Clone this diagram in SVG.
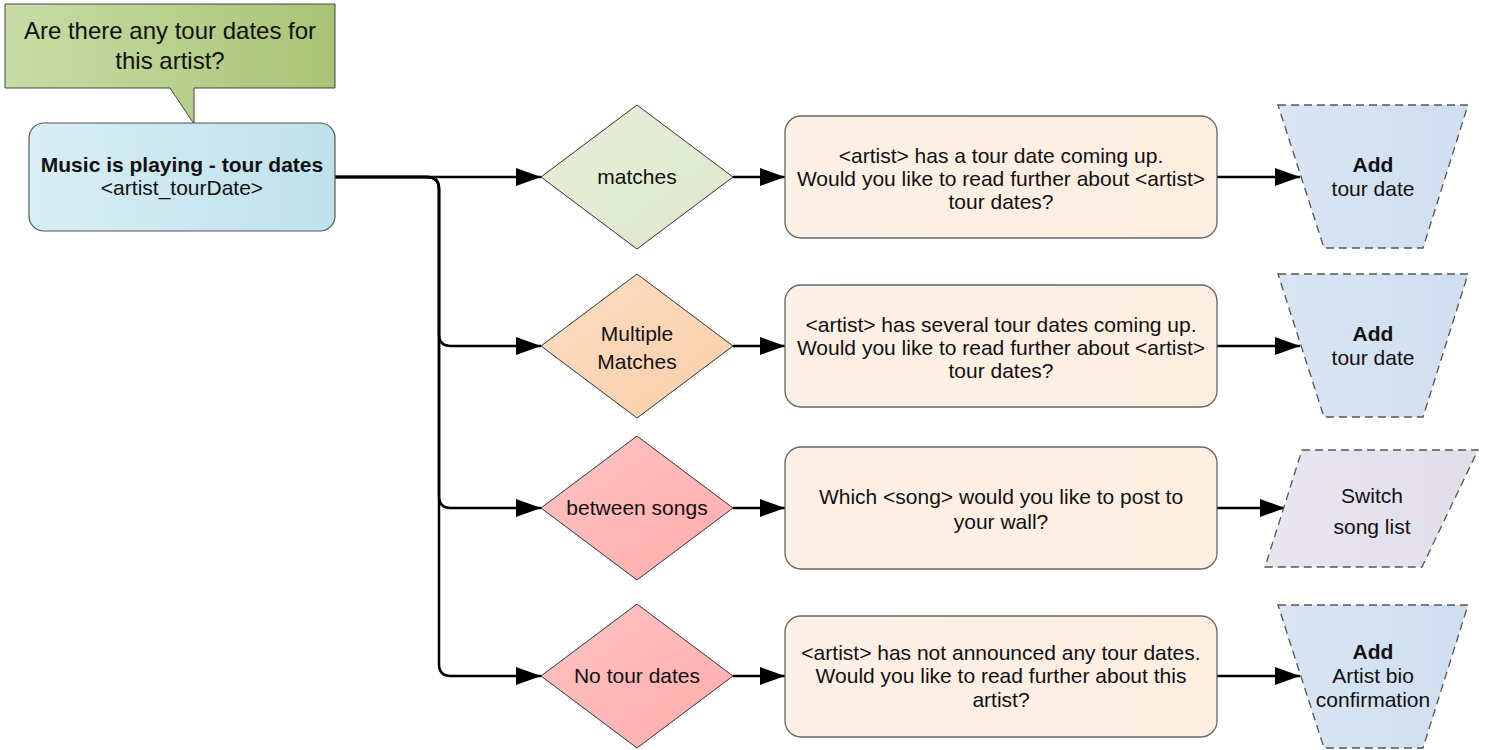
<svg xmlns="http://www.w3.org/2000/svg" width="1489" height="750" viewBox="0 0 1489 750">
<style>
text{font-family:"Liberation Sans",Arial,sans-serif;fill:#111;text-anchor:middle}
.t17{font-size:21px}
.b{font-weight:bold}
.conn{fill:none;stroke:#000;stroke-width:2.5;marker-end:url(#arr)}
.dia{stroke:#333;stroke-width:1}
.msg{fill:url(#gMsg);stroke:#666;stroke-width:1.3}
.dash{stroke:#555;stroke-width:1.3;stroke-dasharray:8 5}
</style>
<defs>
<marker id="arr" markerUnits="userSpaceOnUse" markerWidth="26" markerHeight="20" refX="25" refY="10" orient="auto">
<path d="M0,1 L25,10 L0,19 z" fill="#000"/>
</marker>
<linearGradient id="gCall" x1="0" y1="0" x2="1" y2="0"><stop offset="0" stop-color="#c9dca6"/><stop offset="1" stop-color="#a9c476"/></linearGradient>
<linearGradient id="gStart" x1="0" y1="0" x2="1" y2="0"><stop offset="0" stop-color="#d9eef5"/><stop offset="1" stop-color="#bfe1eb"/></linearGradient>
<linearGradient id="gGreen" x1="0" y1="0" x2="1" y2="1"><stop offset="0" stop-color="#e6eedb"/><stop offset="1" stop-color="#dde7cc"/></linearGradient>
<linearGradient id="gOrange" x1="0" y1="0" x2="1" y2="1"><stop offset="0" stop-color="#fcdcc2"/><stop offset="1" stop-color="#f9cfa9"/></linearGradient>
<linearGradient id="gPink" x1="0" y1="0" x2="1" y2="1"><stop offset="0" stop-color="#ffc4c4"/><stop offset="1" stop-color="#ffabab"/></linearGradient>
<linearGradient id="gMsg" x1="0" y1="0" x2="1" y2="0"><stop offset="0" stop-color="#fdf0e6"/><stop offset="1" stop-color="#fdeee1"/></linearGradient>
<linearGradient id="gBlue" x1="0" y1="0" x2="1" y2="0"><stop offset="0" stop-color="#d9e5f3"/><stop offset="1" stop-color="#cfdef0"/></linearGradient>
<linearGradient id="gLav" x1="0" y1="0" x2="1" y2="0"><stop offset="0" stop-color="#e9e6f0"/><stop offset="1" stop-color="#e2deea"/></linearGradient>
</defs>

<g id="callout">
<path d="M5,4 H335 V88 H194 V124 L170,88 H5 Z" fill="url(#gCall)" stroke="#444" stroke-width="1"/>
<text x="170" y="38.5" style="font-size:24px">Are there any tour dates for</text>
<text x="170" y="68.5" style="font-size:24px">this artist?</text>
</g>

<g id="connectors">
<path class="conn" d="M335,177 H541"/>
<path class="conn" d="M335,177 H427 Q439,177 439,189 V334 Q439,346 451,346 H541"/>
<path class="conn" d="M335,177 H427 Q439,177 439,189 V496 Q439,508 451,508 H541"/>
<path class="conn" d="M335,177 H427 Q439,177 439,189 V664 Q439,676 451,676 H541"/>
<path class="conn" d="M733,177 H785"/>
<path class="conn" d="M733,346 H785"/>
<path class="conn" d="M733,508 H785"/>
<path class="conn" d="M733,676 H785"/>
<path class="conn" d="M1217,177 H1300"/>
<path class="conn" d="M1217,346 H1300"/>
<path class="conn" d="M1217,508 H1285"/>
<path class="conn" d="M1217,676 H1300"/>
</g>

<g id="start">
<rect x="29" y="123" width="306" height="108" rx="15" fill="url(#gStart)" stroke="#555" stroke-width="1.2"/>
<text class="t17 b" x="182" y="172">Music is playing - tour dates</text>
<text class="t17" x="182" y="195">&lt;artist_tourDate&gt;</text>
</g>

<g id="d1">
<path class="dia" d="M541,177 L637,105 L733,177 L637,249 Z" fill="url(#gGreen)"/>
<text class="t17" x="637" y="184">matches</text>
</g>
<g id="d2">
<path class="dia" d="M541,346 L637,274 L733,346 L637,418 Z" fill="url(#gOrange)"/>
<text class="t17" x="637" y="341">Multiple</text>
<text class="t17" x="637" y="369">Matches</text>
</g>
<g id="d3">
<path class="dia" d="M541,508 L637,436 L733,508 L637,580 Z" fill="url(#gPink)"/>
<text class="t17" x="637" y="515">between songs</text>
</g>
<g id="d4">
<path class="dia" d="M541,676 L637,604 L733,676 L637,748 Z" fill="url(#gPink)"/>
<text class="t17" x="637" y="683">No tour dates</text>
</g>

<g id="m1">
<rect class="msg" x="785" y="116" width="432" height="122" rx="16"/>
<text class="t17" x="1001" y="162.5">&lt;artist&gt; has a tour date coming up.</text>
<text class="t17" x="1001" y="185.5">Would you like to read further about &lt;artist&gt;</text>
<text class="t17" x="1001" y="208.5">tour dates?</text>
</g>
<g id="m2">
<rect class="msg" x="785" y="285" width="432" height="122" rx="16"/>
<text class="t17" x="1001" y="331.5">&lt;artist&gt; has several tour dates coming up.</text>
<text class="t17" x="1001" y="354.5">Would you like to read further about &lt;artist&gt;</text>
<text class="t17" x="1001" y="377.5">tour dates?</text>
</g>
<g id="m3">
<rect class="msg" x="785" y="447" width="432" height="122" rx="16"/>
<text class="t17" x="1001" y="503.5">Which &lt;song&gt; would you like to post to</text>
<text class="t17" x="1001" y="528.5">your wall?</text>
</g>
<g id="m4">
<rect class="msg" x="785" y="616" width="432" height="121" rx="16"/>
<text class="t17" x="1001" y="659.5">&lt;artist&gt; has not announced any tour dates.</text>
<text class="t17" x="1001" y="683">Would you like to read further about this</text>
<text class="t17" x="1001" y="706.5">artist?</text>
</g>

<g id="a1">
<path class="dash" d="M1278,105 H1468 L1423,248 H1324 Z" fill="url(#gBlue)"/>
<text class="t17 b" x="1373" y="172">Add</text>
<text class="t17" x="1373" y="196">tour date</text>
</g>
<g id="a2">
<path class="dash" d="M1278,274 H1468 L1423,417 H1324 Z" fill="url(#gBlue)"/>
<text class="t17 b" x="1373" y="341">Add</text>
<text class="t17" x="1373" y="365">tour date</text>
</g>
<g id="a3">
<path class="dash" d="M1302,450 H1478 L1422,567 H1265 Z" fill="url(#gLav)"/>
<text class="t17" x="1372" y="503">Switch</text>
<text class="t17" x="1372" y="534">song list</text>
</g>
<g id="a4">
<path class="dash" d="M1278,605 H1468 L1423,748 H1324 Z" fill="url(#gBlue)"/>
<text class="t17 b" x="1373" y="659">Add</text>
<text class="t17" x="1373" y="683">Artist bio</text>
<text class="t17" x="1373" y="707">confirmation</text>
</g>
</svg>
